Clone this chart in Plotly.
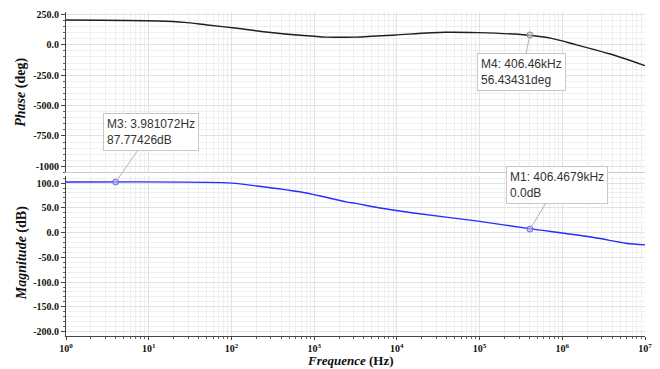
import math
import plotly.graph_objects as go

# ---- data ----
phase_freq_hz = [1, 13, 27, 51, 117, 245, 741, 1410, 2450, 3160, 9550, 38000,
                 95500, 372000, 724000, 1480000, 3800000, 10000000]
phase_deg = [204, 196, 185, 163, 136, 108, 76, 63, 62, 63, 81, 103,
             100, 81, 55, 0, -76, -172]

mag_freq_hz = [1, 89, 204, 741, 2450, 3160, 6000, 15100, 95500, 398000,
               2400000, 5900000, 10000000]
mag_db = [102, 100.4, 94, 81, 62, 59, 50, 40, 23, 8, -10, -21.5, -25]

# markers (position on the drawn curve) and their label texts
marker_names = ["M3", "M1", "M4"]
marker_freq_hz = [3.981072, 406467.9, 406460]
marker_val = [102, 7, 81]
marker_text = ["M3: 3.981072Hz<br>87.77426dB",
               "M1: 406.4679kHz<br>0.0dB",
               "M4: 406.46kHz<br>56.43431deg"]

phase_ticks = [250, 0, -250, -500, -750, -1000]
phase_ticktext = ["250.0", "0.0", "-250.0", "-500.0", "-750.0", "-1000"]
mag_ticks = [100, 50, 0, -50, -100, -150, -200]
mag_ticktext = ["100.0", "50.0", "0.0", "-50.0", "-100.0", "-150.0", "-200.0"]
x_ticks = [10 ** k for k in range(8)]
x_ticktext = ["10<sup>%d</sup>" % k for k in range(8)]

fig = go.Figure()
fig.add_trace(go.Scatter(x=phase_freq_hz, y=phase_deg, mode="lines",
                         line=dict(color="#1e1e1e", width=1.4, shape="spline", smoothing=0.8),
                         xaxis="x", yaxis="y", showlegend=False, hoverinfo="skip"))
fig.add_trace(go.Scatter(x=mag_freq_hz, y=mag_db, mode="lines",
                         line=dict(color="#2b2bff", width=1.4, shape="spline", smoothing=0.8),
                         xaxis="x2", yaxis="y2", showlegend=False, hoverinfo="skip"))

# markers
fig.add_trace(go.Scatter(x=marker_freq_hz[:2], y=marker_val[:2], mode="markers",
                         marker=dict(size=6, color="rgba(170,170,255,0.6)",
                                     line=dict(color="#6a6ad8", width=1)),
                         xaxis="x2", yaxis="y2", showlegend=False, hoverinfo="skip"))
fig.add_trace(go.Scatter(x=marker_freq_hz[2:], y=marker_val[2:], mode="markers",
                         marker=dict(size=6, color="rgba(200,200,200,0.6)",
                                     line=dict(color="#888888", width=1)),
                         xaxis="x", yaxis="y", showlegend=False, hoverinfo="skip"))

ann_offsets = [(35, -50), (27, -44), (-8, 37)]
ann_refs = [("x2", "y2"), ("x2", "y2"), ("x", "y")]
for txt, fx, v, (ax, ay), (xr, yr) in zip(marker_text, marker_freq_hz, marker_val,
                                          ann_offsets, ann_refs):
    fig.add_annotation(x=math.log10(fx), y=v, xref=xr, yref=yr,
                       text=txt, showarrow=True, arrowhead=0, arrowwidth=1,
                       arrowcolor="#b4b4b4", ax=ax, ay=ay, align="left",
                       bgcolor="white", bordercolor="#c8c8c8", borderwidth=1,
                       borderpad=3,
                       font=dict(family="Liberation Sans, Arial", size=12, color="#333333"))

tickfont = dict(family="Liberation Serif, Times New Roman", size=10, color="#111111",
                weight="bold")
grid_major = "#e2e2e2"
grid_minor = "#efefef"

xcommon = dict(type="log", range=[0, 7], showgrid=True, gridcolor=grid_major,
               zeroline=False, showline=True, linecolor="#444444", linewidth=1,
               ticks="outside", ticklen=3, tickcolor="#444444",
               minor=dict(dtick="D1", showgrid=True, gridcolor=grid_minor,
                          ticks="outside", ticklen=2, tickcolor="#666666"))
fig.update_layout(
    width=660, height=369,
    margin=dict(l=66, r=8, t=12, b=33),
    paper_bgcolor="white", plot_bgcolor="white",
    xaxis=dict(xcommon, anchor="y", showticklabels=False, matches="x2",
               linecolor="#cccccc", ticks="", minor=dict(dtick="D1", showgrid=True,
                                                          gridcolor=grid_minor)),
    xaxis2=dict(xcommon, anchor="y2", tickvals=x_ticks, ticktext=x_ticktext,
                tickfont=tickfont),
    yaxis=dict(domain=[0.505, 1], range=[-1050, 270], tickvals=phase_ticks,
               ticktext=phase_ticktext, tickfont=tickfont, showgrid=True,
               gridcolor=grid_major, zeroline=False, showline=True,
               linecolor="#444444", ticks="outside", ticklen=4, tickcolor="#444444",
               minor=dict(dtick=50, showgrid=True, gridcolor=grid_minor,
                          ticks="outside", ticklen=2, tickcolor="#666666"),
               anchor="x"),
    yaxis2=dict(domain=[0, 0.495], range=[-209, 115], tickvals=mag_ticks,
                ticktext=mag_ticktext, tickfont=tickfont, showgrid=True,
                gridcolor=grid_major, zeroline=False, showline=True,
                linecolor="#444444", ticks="outside", ticklen=4, tickcolor="#444444",
                minor=dict(dtick=10, showgrid=True, gridcolor=grid_minor,
                           ticks="outside", ticklen=2, tickcolor="#666666"),
                anchor="x2"),
)

title_font = dict(family="Liberation Serif, Times New Roman", size=14, color="#111111")
fig.add_annotation(text="<b><i>Phase</i> (deg)</b>", xref="paper", yref="paper",
                   x=-0.077, y=0.752, xanchor="center", yanchor="middle",
                   textangle=-90, showarrow=False, font=title_font)
fig.add_annotation(text="<b><i>Magnitude</i> (dB)</b>", xref="paper", yref="paper",
                   x=-0.077, y=0.257, xanchor="center", yanchor="middle",
                   textangle=-90, showarrow=False, font=title_font)
fig.add_annotation(text="<b><i>Frequence</i> (Hz)</b>", xref="paper", yref="paper",
                   x=0.492, y=-0.077, xanchor="center", yanchor="middle",
                   showarrow=False, font=dict(title_font, size=13))

fig.write_html("out.html", config={"displayModeBar": False},
               post_script="document.body.style.margin='0';"
                           "document.body.style.overflow='hidden';")
